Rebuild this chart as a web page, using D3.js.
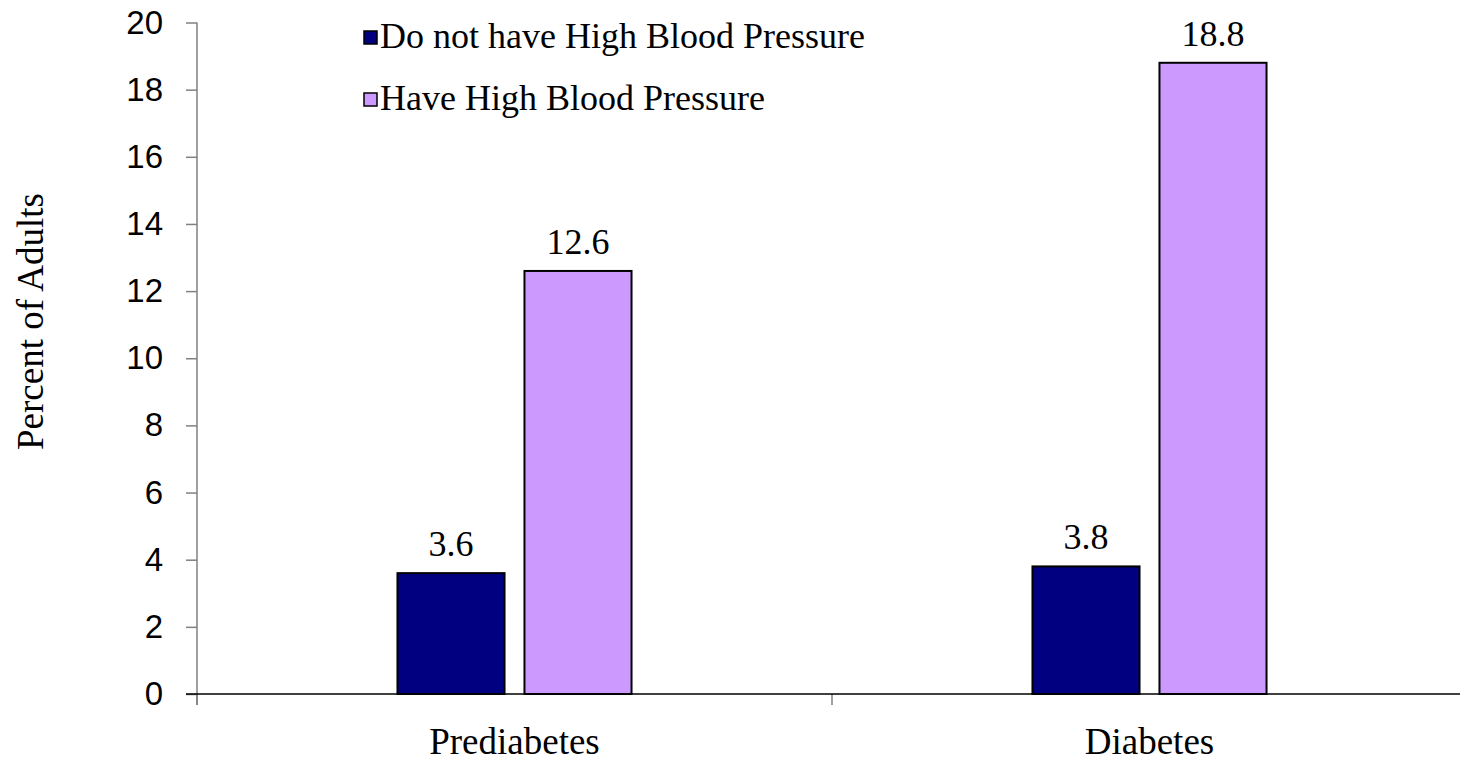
<!DOCTYPE html>
<html>
<head>
<meta charset="utf-8">
<script src="https://cdn.jsdelivr.net/npm/d3@7"></script>
<style>
  html, body { margin: 0; padding: 0; background: #fff; }
  svg { display: block; }
</style>
</head>
<body>
<svg id="chart" width="1460" height="761"></svg>
<script>
const categories = ["Prediabetes", "Diabetes"];
const seriesNames = ["Do not have High Blood Pressure", "Have High Blood Pressure"];
const noHBP = [3.6, 3.8];
const haveHBP = [12.6, 18.8];
const yTicks = [0, 2, 4, 6, 8, 10, 12, 14, 16, 18, 20];
const yTitle = "Percent of Adults";
const colors = ["#000080", "#CC99FF"];

(function () {
const values = [noHBP, haveHBP];
const rows = categories.map((c, i) => ({ cat: c, vals: seriesNames.map((s, j) => ({ s, v: values[j][i], j })) }));

const svg = d3.select("#chart");
const mLeft = 197, mRight = 1467, mTop = 22.5, mBottom = 694;

const x0 = d3.scaleBand().domain(categories).range([mLeft, mRight]).paddingInner(0).paddingOuter(0);
const bw = x0.bandwidth();
const x1 = d3.scaleBand().domain(seriesNames)
  .range([bw * 0.3157, bw * 0.6843]).paddingInner(0.157).paddingOuter(0);
const y = d3.scaleLinear().domain([0, 20]).range([mBottom, mTop]);

const serif = "'Liberation Serif', 'Times New Roman', serif";
const sans = "'Liberation Sans', Arial, sans-serif";

// Y axis
const yAxis = svg.append("g").attr("transform", `translate(${mLeft},0)`)
  .call(d3.axisLeft(y).tickValues(yTicks).tickSize(11).tickPadding(23).tickFormat(d3.format("d")));
yAxis.attr("font-size", 33).attr("font-family", sans);
yAxis.select(".domain").attr("stroke", "#808080").attr("stroke-width", 1.5)
  .attr("d", `M0,${mTop}V${mBottom + 11}`);
yAxis.selectAll(".tick line").attr("stroke", "#808080").attr("stroke-width", 1.5);
yAxis.selectAll(".tick text").attr("font-family", sans).style("font-size", "33px").attr("fill", "#000");

// X axis category boundary ticks
const boundaries = [mLeft, ...categories.slice(1).map(c => x0(c)), mRight];
svg.append("g").selectAll("line").data(boundaries).join("line")
  .attr("x1", d => d).attr("x2", d => d)
  .attr("y1", mBottom).attr("y2", mBottom + 11)
  .attr("stroke", "#808080").attr("stroke-width", 1.5);

// Bars
const groups = svg.append("g").selectAll("g").data(rows).join("g")
  .attr("transform", d => `translate(${x0(d.cat)},0)`);
groups.selectAll("rect").data(d => d.vals).join("rect")
  .attr("x", d => x1(d.s))
  .attr("width", x1.bandwidth())
  .attr("y", d => y(d.v))
  .attr("height", d => mBottom - y(d.v))
  .attr("fill", d => colors[d.j])
  .attr("stroke", "#000").attr("stroke-width", 2);
groups.selectAll("text").data(d => d.vals).join("text")
  .attr("x", d => x1(d.s) + x1.bandwidth() / 2)
  .attr("y", d => y(d.v) - 17)
  .attr("text-anchor", "middle")
  .attr("font-family", serif).attr("font-size", 36).attr("fill", "#000")
  .text(d => d3.format(".1f")(d.v));

// X axis line (zero line)
svg.append("line").attr("x1", mLeft - 11).attr("x2", 1460)
  .attr("y1", mBottom).attr("y2", mBottom)
  .attr("stroke", "#000").attr("stroke-width", 1.5);

// Category labels
svg.append("g").selectAll("text").data(categories).join("text")
  .attr("x", d => x0(d) + bw / 2)
  .attr("y", 754)
  .attr("text-anchor", "middle")
  .attr("font-family", serif).attr("font-size", 37).attr("fill", "#000")
  .text(d => d);

// Y title
svg.append("text")
  .attr("transform", `translate(43,${(190 + 453) / 2}) rotate(-90)`)
  .attr("text-anchor", "middle")
  .attr("font-family", serif).attr("font-size", 37).attr("fill", "#000")
  .text(yTitle);

// Legend
const legend = svg.append("g").selectAll("g").data(seriesNames).join("g")
  .attr("transform", (d, i) => `translate(364,${i * 62})`);
legend.append("rect")
  .attr("x", 0).attr("y", 31).attr("width", 13).attr("height", 13)
  .attr("fill", (d, i) => colors[i]).attr("stroke", "#000").attr("stroke-width", 1.5);
legend.append("text")
  .attr("x", 16).attr("y", 48)
  .attr("font-family", serif).attr("font-size", 36).attr("fill", "#000")
  .text(d => d);
})();
</script>
</body>
</html>
